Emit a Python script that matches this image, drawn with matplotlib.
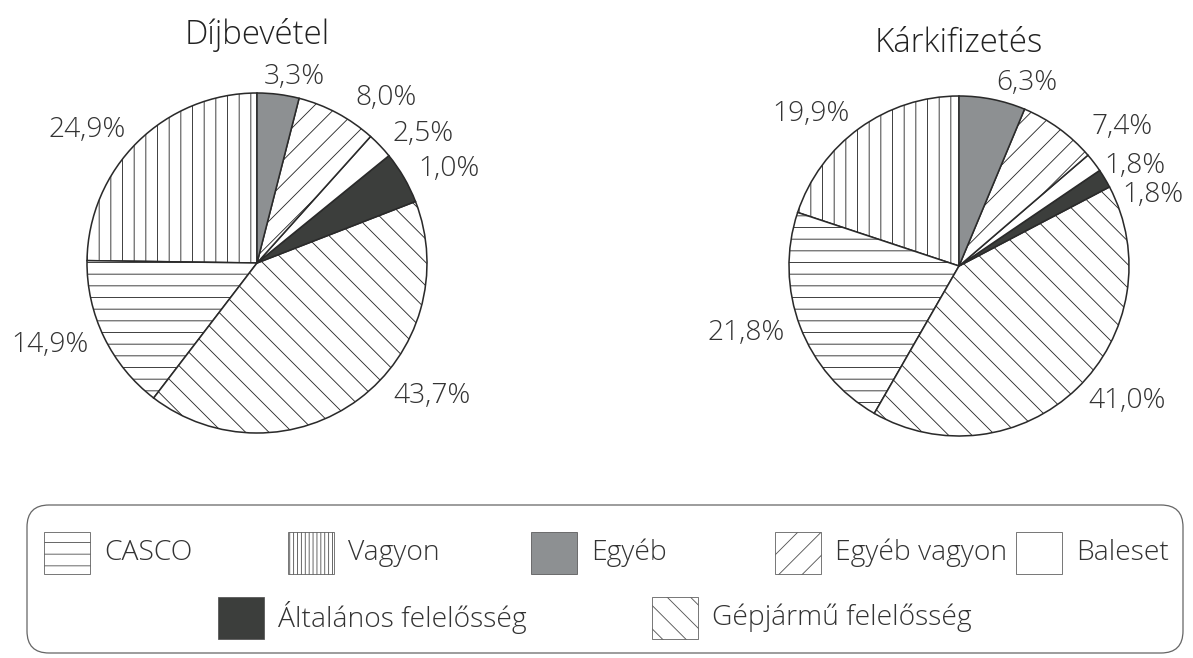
import matplotlib
matplotlib.use('Agg')
import matplotlib.pyplot as plt
from matplotlib.patches import Rectangle, FancyBboxPatch

# categories in drawing order (counterclockwise from 12 o'clock)
categories = ['Vagyon', 'CASCO', 'Gépjármű felelősség', 'Általános felelősség',
              'Baleset', 'Egyéb vagyon', 'Egyéb']

# Díjbevétel: printed percentages and the wedge sizes as they are drawn
dij_labels = ['24,9%', '14,9%', '43,7%', '1,0%', '2,5%', '8,0%', '3,3%']
dij_sizes = [24.9, 14.9, 41.5, 5.0, 2.5, 7.7, 4.0]

# Kárkifizetés
kar_labels = ['19,9%', '21,8%', '41,0%', '1,8%', '1,8%', '7,4%', '6,3%']
kar_sizes = [19.9, 21.8, 41.0, 1.8, 1.8, 7.4, 6.3]

legend_order = ['CASCO', 'Vagyon', 'Egyéb', 'Egyéb vagyon', 'Baleset',
                'Általános felelősség', 'Gépjármű felelősség']

fills = {'Vagyon': 'white', 'CASCO': 'white', 'Gépjármű felelősség': 'white',
         'Általános felelősség': '#3c3e3c', 'Baleset': 'white',
         'Egyéb vagyon': 'white', 'Egyéb': '#8d9092'}
hatches = {'Vagyon': '|', 'CASCO': '-', 'Gépjármű felelősség': '\\',
           'Általános felelősség': '', 'Baleset': '',
           'Egyéb vagyon': '/', 'Egyéb': ''}
# legend swatch for Vagyon is drawn denser than in the pies
legend_hatches = dict(hatches, Vagyon='|||')

W, H, DPI = 1193, 658, 70
R = 170
EDGE = '#2a2a2a'
TXT = '#333333'
FONT = ['Open Sans', 'DejaVu Sans']

plt.rcParams['font.family'] = FONT
plt.rcParams['hatch.linewidth'] = 0.9

fig = plt.figure(figsize=(W / DPI, H / DPI), dpi=DPI)
fig.patch.set_facecolor('white')


def draw_pie(cx, cy, sizes, labels, title, title_gap):
    ax = fig.add_axes([(cx - R) / W, 1 - (cy + R) / H, 2 * R / W, 2 * R / H])
    wedges, texts = ax.pie(sizes, labels=labels, startangle=90, counterclock=True,
                           colors=[fills[c] for c in categories],
                           hatch=[hatches[c] for c in categories],
                           wedgeprops=dict(edgecolor=EDGE, linewidth=1.6),
                           labeldistance=1.1,
                           textprops=dict(fontsize=29, color=TXT, fontweight='light'))
    ax.set_xlim(-1, 1)
    ax.set_ylim(-1, 1)
    ax.text(0, 1 + title_gap, title, ha='center', va='center', fontsize=34,
            color='#222222', fontweight='light')
    return ax, texts


def nudge(text, dx, dy):
    x, y = text.get_position()
    text.set_position((x + dx, y + dy))


ax1, t1 = draw_pie(257, 263, dij_sizes, dij_labels, 'Díjbevétel', 0.34)
ax2, t2 = draw_pie(959, 266, kar_sizes, kar_labels, 'Kárkifizetés', 0.31)

# label placement tweaks, as in the original layout
t1[6].set_ha('center')
nudge(t1[6], 0.08, 0.0)
nudge(t1[5], 0.06, 0.0)
nudge(t1[2], 0.14, 0.1)
nudge(t2[5], 0.13, -0.07)
nudge(t2[4], -0.02, -0.08)
nudge(t2[3], 0.02, -0.15)

# legend box
lax = fig.add_axes([0, 0, 1, 1])
lax.set_xlim(0, W)
lax.set_ylim(H, 0)
lax.axis('off')
lax.add_patch(FancyBboxPatch((27, 505), 1156, 148,
                             boxstyle='round,pad=0,rounding_size=22',
                             facecolor='none', edgecolor='#666666', linewidth=1.3))

leg_x = [44, 288, 531, 775, 1016, 218, 652]
leg_y = [532, 532, 532, 532, 532, 597, 597]
for name, x, y in zip(legend_order, leg_x, leg_y):
    lax.add_patch(Rectangle((x, y), 46, 42, facecolor=fills[name],
                            hatch=legend_hatches[name], edgecolor='#555555',
                            linewidth=0.8))
    lax.text(x + 60, y + 21, name, ha='left', va='center', fontsize=29,
             color=TXT, fontweight='light')

fig.savefig('out.png', dpi=DPI, facecolor='white')
